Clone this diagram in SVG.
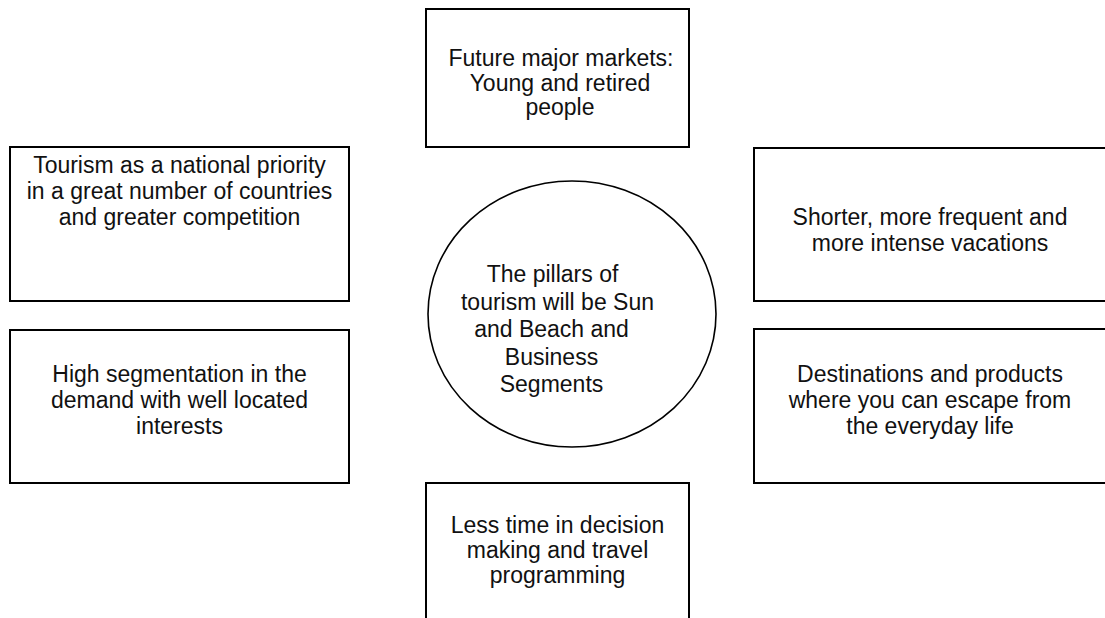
<svg xmlns="http://www.w3.org/2000/svg" width="1105" height="618" viewBox="0 0 1105 618">
  <style>
    .box { fill: #ffffff; stroke: #000000; stroke-width: 2; }
    .hub { fill: #ffffff; stroke: #000000; stroke-width: 1.6; }
    .lbl { font-family: "Liberation Sans", Arial, sans-serif; font-size: 23px; fill: #111111; text-anchor: middle; }
  </style>
  <rect width="1105" height="618" fill="#ffffff"/>

  <!-- no connectors are drawn between the nodes -->
  <g id="connectors"></g>

  <g id="node-markets">
    <rect class="box" x="426" y="9" width="263" height="138"/>
    <text class="lbl" x="561" y="66">Future major markets:</text>
    <text class="lbl" x="560" y="91">Young and retired</text>
    <text class="lbl" x="560" y="115">people</text>
  </g>

  <g id="node-priority">
    <rect class="box" x="10" y="147" width="339" height="154"/>
    <text class="lbl" x="179.5" y="173">Tourism as a national priority</text>
    <text class="lbl" x="179.5" y="199">in a great number of countries</text>
    <text class="lbl" x="179.5" y="225">and greater competition</text>
  </g>

  <g id="node-vacations">
    <rect class="box" x="754" y="148" width="352" height="153"/>
    <text class="lbl" x="930" y="225">Shorter, more frequent and</text>
    <text class="lbl" x="930" y="251">more intense vacations</text>
  </g>

  <g id="node-segmentation">
    <rect class="box" x="10" y="330" width="339" height="153"/>
    <text class="lbl" x="179.5" y="382">High segmentation in the</text>
    <text class="lbl" x="179.5" y="408">demand with well located</text>
    <text class="lbl" x="179.5" y="434">interests</text>
  </g>

  <g id="node-escape">
    <rect class="box" x="754" y="329" width="352" height="154"/>
    <text class="lbl" x="930" y="382">Destinations and products</text>
    <text class="lbl" x="930" y="408">where you can escape from</text>
    <text class="lbl" x="930" y="434">the everyday life</text>
  </g>

  <g id="node-decision">
    <rect class="box" x="426" y="483" width="263" height="150"/>
    <text class="lbl" x="557.5" y="533">Less time in decision</text>
    <text class="lbl" x="557.5" y="558">making and travel</text>
    <text class="lbl" x="557.5" y="583">programming</text>
  </g>

  <g id="node-pillars">
    <ellipse class="hub" cx="572" cy="314" rx="144" ry="133"/>
    <text class="lbl" x="552.5" y="282">The pillars of</text>
    <text class="lbl" x="557.5" y="309.5">tourism will be Sun</text>
    <text class="lbl" x="551.5" y="337">and Beach and</text>
    <text class="lbl" x="551.5" y="364.5">Business</text>
    <text class="lbl" x="551.5" y="392">Segments</text>
  </g>
</svg>
